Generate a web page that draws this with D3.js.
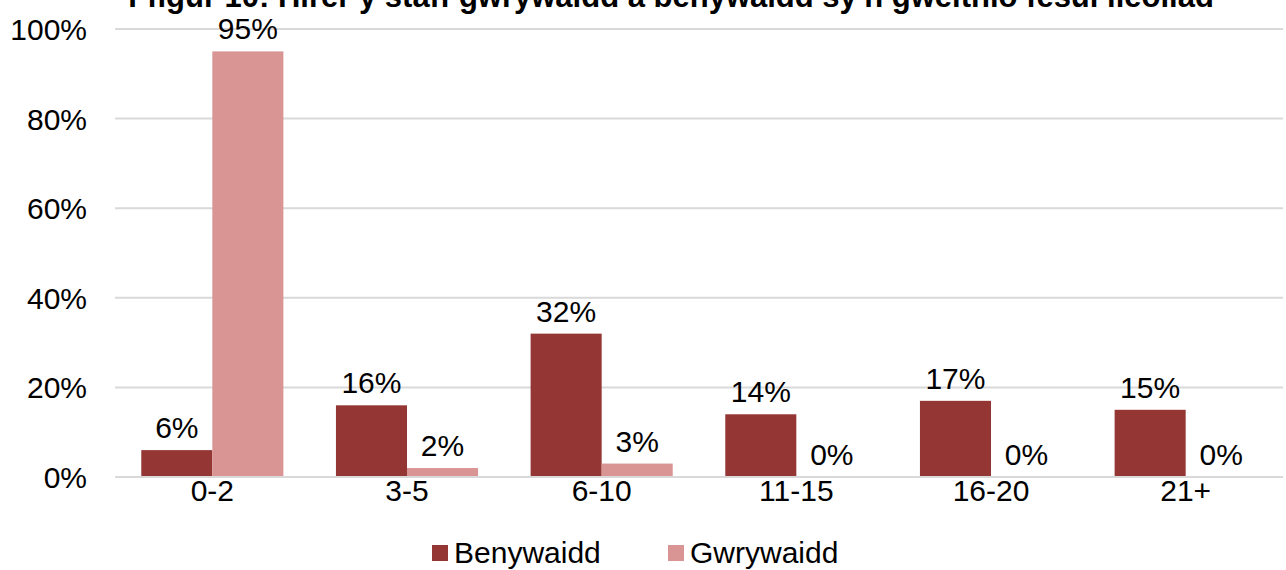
<!DOCTYPE html>
<html><head><meta charset="utf-8">
<script src="https://cdn.jsdelivr.net/npm/d3@7"></script>
<style>body{margin:0;background:#fff;}svg{display:block;font-family:"Liberation Sans",Arial,sans-serif;}</style>
</head><body>
<svg id="c" width="1286" height="570"></svg>
<script>
const title = "Ffigur 10: Hirer y staff gwrywaidd a benywaidd sy'n gweithio fesul lleoliad";
const categories = ["0-2","3-5","6-10","11-15","16-20","21+"];
const seriesNames = ["Benywaidd","Gwrywaidd"];
const benywaidd = [6,16,32,14,17,15];
const gwrywaidd = [95,2,3,0,0,0];
const yTicks = [0,20,40,60,80,100];
const colors = ["#943634","#D99594"];
const FS = 30;

const svg = d3.select("#c");
const m = {left:115, right:1283, top:29, bottom:477};
const x = d3.scaleBand().domain(categories).range([m.left,m.right]).paddingInner(0.27).paddingOuter(0.135);
const x1 = d3.scaleBand().domain(seriesNames).range([0,x.bandwidth()]);
const y = d3.scaleLinear().domain([0,100]).range([m.bottom,m.top]);

// grid
svg.append("g").selectAll("line").data(yTicks.filter(d=>d>0)).join("line")
  .attr("x1",m.left).attr("x2",m.right).attr("y1",d=>y(d)).attr("y2",d=>y(d))
  .attr("stroke","#d9d9d9").attr("stroke-width",2);

// y axis labels
const yAxis = d3.axisLeft(y).tickValues(yTicks).tickFormat(d=>d+"%").tickSize(0).tickPadding(0);
const ya = svg.append("g").attr("transform",`translate(${m.left-28},0)`).call(yAxis);
ya.select(".domain").remove();
ya.selectAll("text").attr("font-size",FS).attr("fill","#000").attr("font-family","Liberation Sans, Arial, sans-serif").attr("dy","0.35em");

const data = [benywaidd,gwrywaidd];
const groups = svg.append("g").selectAll("g").data(seriesNames).join("g").attr("fill",(d,i)=>colors[i]);
groups.each(function(s,si){
  const g = d3.select(this);
  g.selectAll("rect").data(categories).join("rect")
    .attr("x",c=>x(c)+x1(s)).attr("width",x1.bandwidth())
    .attr("y",(c,ci)=>y(data[si][ci])).attr("height",(c,ci)=>y(0)-y(data[si][ci]));
  g.selectAll("text").data(categories).join("text")
    .attr("x",c=>x(c)+x1(s)+x1.bandwidth()/2)
    .attr("y",(c,ci)=>y(data[si][ci])-12)
    .attr("text-anchor","middle").attr("font-size",FS).attr("fill","#000")
    .text((c,ci)=>data[si][ci]+"%");
});

// x axis line
svg.append("line").attr("x1",m.left).attr("x2",m.right).attr("y1",y(0)).attr("y2",y(0))
  .attr("stroke","#d9d9d9").attr("stroke-width",2);

const xAxis = d3.axisBottom(x).tickSize(0).tickPadding(0);
const xa = svg.append("g").attr("transform",`translate(0,${m.bottom+24})`).call(xAxis);
xa.select(".domain").remove();
xa.selectAll("text").attr("font-size",FS).attr("fill","#000").attr("font-family","Liberation Sans, Arial, sans-serif").attr("dy",0);

// legend
const legX = [432, 668];
const leg = svg.append("g").selectAll("g").data(seriesNames).join("g")
  .attr("transform",(d,i)=>`translate(${legX[i]},553)`);
leg.append("rect").attr("x",0).attr("y",-8).attr("width",16).attr("height",16).attr("fill",(d,i)=>colors[i]);
leg.append("text").attr("x",22).attr("y",10).attr("font-size",FS).attr("fill","#000").text(d=>d);

// title (clipped at top, as in the reference)
svg.append("text").attr("x",671).attr("y",7).attr("text-anchor","middle")
  .attr("font-size",31).attr("font-weight","bold").attr("fill","#000").text(title);
</script>
</body></html>
